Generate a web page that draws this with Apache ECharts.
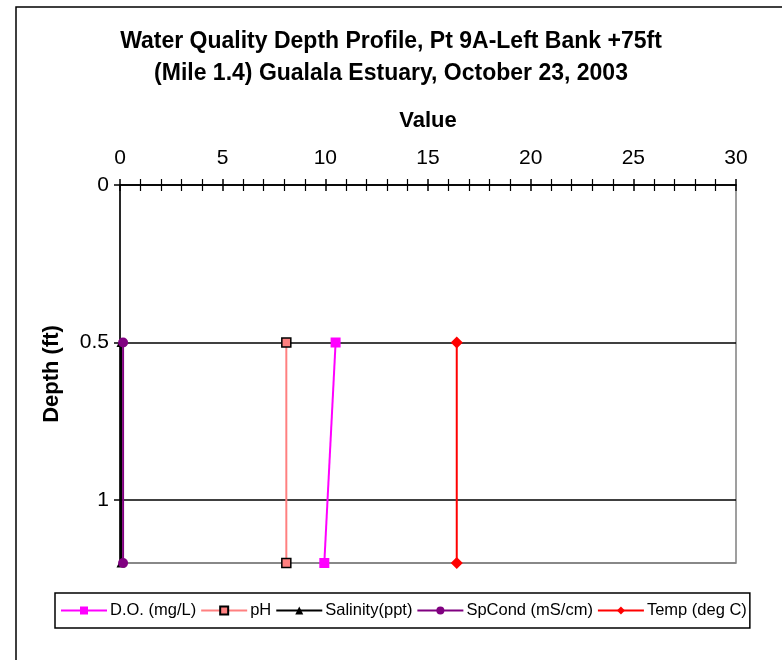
<!DOCTYPE html>
<html><head><meta charset="utf-8">
<script src="https://cdn.jsdelivr.net/npm/echarts@6/dist/echarts.min.js"></script>
<style>html,body{margin:0;padding:0;background:#fff}#c{width:782px;height:660px}</style>
</head><body><div id="c"></div>
<script>
var depths = [0.5, 1.2];
var doVals = [10.5, 9.95];
var phVals = [8.1, 8.1];
var salVals = [0.05, 0.05];
var spcVals = [0.15, 0.15];
var tempVals = [16.4, 16.4];
var seriesNames = ['D.O. (mg/L)', 'pH', 'Salinity(ppt)', 'SpCond (mS/cm)', 'Temp (deg C)'];
var xTicks = [0, 5, 10, 15, 20, 25, 30];
var yTicks = [0, 0.5, 1];

function pts(vals){ return vals.map(function(v,i){ return [v, depths[i]]; }); }
var F = 'Liberation Sans, Arial, sans-serif';
var chart = echarts.init(document.getElementById('c'));
function mk(name, vals, color, symbol, size, border){
  return {name:name, type:'line', xAxisIndex:0, yAxisIndex:0, data:pts(vals),
    symbol:symbol, symbolSize:size, showSymbol:true,
    lineStyle:{color:color, width:2},
    itemStyle:{color: border ? border.fill : color, borderColor: border ? '#000' : color, borderWidth: border ? 1.5 : 0},
    emphasis:{disabled:true}, z:3};
}
chart.setOption({
  animation:false,
  textStyle:{fontFamily:F},
  graphic:[{type:'rect', shape:{x:16,y:7,width:800,height:700}, style:{fill:null, stroke:'#000', lineWidth:1.5}, z:-1}],
  title:{text:'Water Quality Depth Profile, Pt 9A-Left Bank +75ft\n(Mile 1.4) Gualala Estuary, October 23, 2003',
    left:'center', top:21, textStyle:{fontFamily:F, fontSize:23, fontWeight:'bold', color:'#000', lineHeight:32}},
  grid:{left:120, top:185, right:46, bottom:97, show:true, borderColor:'#808080', borderWidth:1.5, containLabel:false},
  legend:{left:55, top:593, orient:'horizontal', borderColor:'#000', borderWidth:1.5, padding:[9,3,9,5],
    itemGap:4, itemWidth:46, itemHeight:10, textStyle:{fontFamily:F, fontSize:16.5, color:'#000', padding:[0,0,0,-2]},
    data:seriesNames},
  xAxis:[
    {type:'value', position:'top', min:0, max:30, interval:5, name:'Value', nameLocation:'middle', nameGap:53,
     nameTextStyle:{fontFamily:F, fontSize:22, fontWeight:'bold', color:'#000'},
     axisLine:{show:true, lineStyle:{color:'#000', width:1.5}},
     axisTick:{show:true, length:6, lineStyle:{color:'#000', width:1.5}},
     minorTick:{show:true, splitNumber:5, length:6, lineStyle:{color:'#000', width:1.2}},
     axisLabel:{fontFamily:F, fontSize:21, color:'#000', margin:16},
     splitLine:{show:false}},
    {type:'value', position:'top', min:0, max:30, interval:5,
     axisLine:{show:false}, axisLabel:{show:false},
     axisTick:{show:true, inside:true, length:6, lineStyle:{color:'#000', width:1.5}},
     minorTick:{show:true, splitNumber:5, length:6, lineStyle:{color:'#000', width:1.2}},
     splitLine:{show:false}}
  ],
  yAxis:[
    {type:'value', inverse:true, min:0, max:1.2, interval:0.5, name:'Depth (ft)', nameLocation:'middle', nameGap:57,
     nameTextStyle:{fontFamily:F, fontSize:22, fontWeight:'bold', color:'#000'},
     axisLine:{show:true, lineStyle:{color:'#000', width:1.5}},
     axisTick:{show:true, length:6, lineStyle:{color:'#000', width:1.5}},
     axisLabel:{fontFamily:F, fontSize:21, color:'#000', margin:11, showMaxLabel:false,
       formatter:function(v){ return yTicks.indexOf(v) >= 0 ? String(v) : ''; }},
     splitLine:{show:true, lineStyle:{color:['#000','#000','#000','#808080'], width:1.5}}}
  ],
  series:[
    mk(seriesNames[2], salVals, '#000', 'triangle', 9),
    mk(seriesNames[3], spcVals, '#800080', 'circle', 10),
    mk(seriesNames[1], phVals, '#FF8080', 'rect', 9, {fill:'#FF8080'}),
    mk(seriesNames[0], doVals, '#FF00FF', 'rect', 10),
    mk(seriesNames[4], tempVals, '#FF0000', 'diamond', 12)
  ]
});
</script></body></html>
